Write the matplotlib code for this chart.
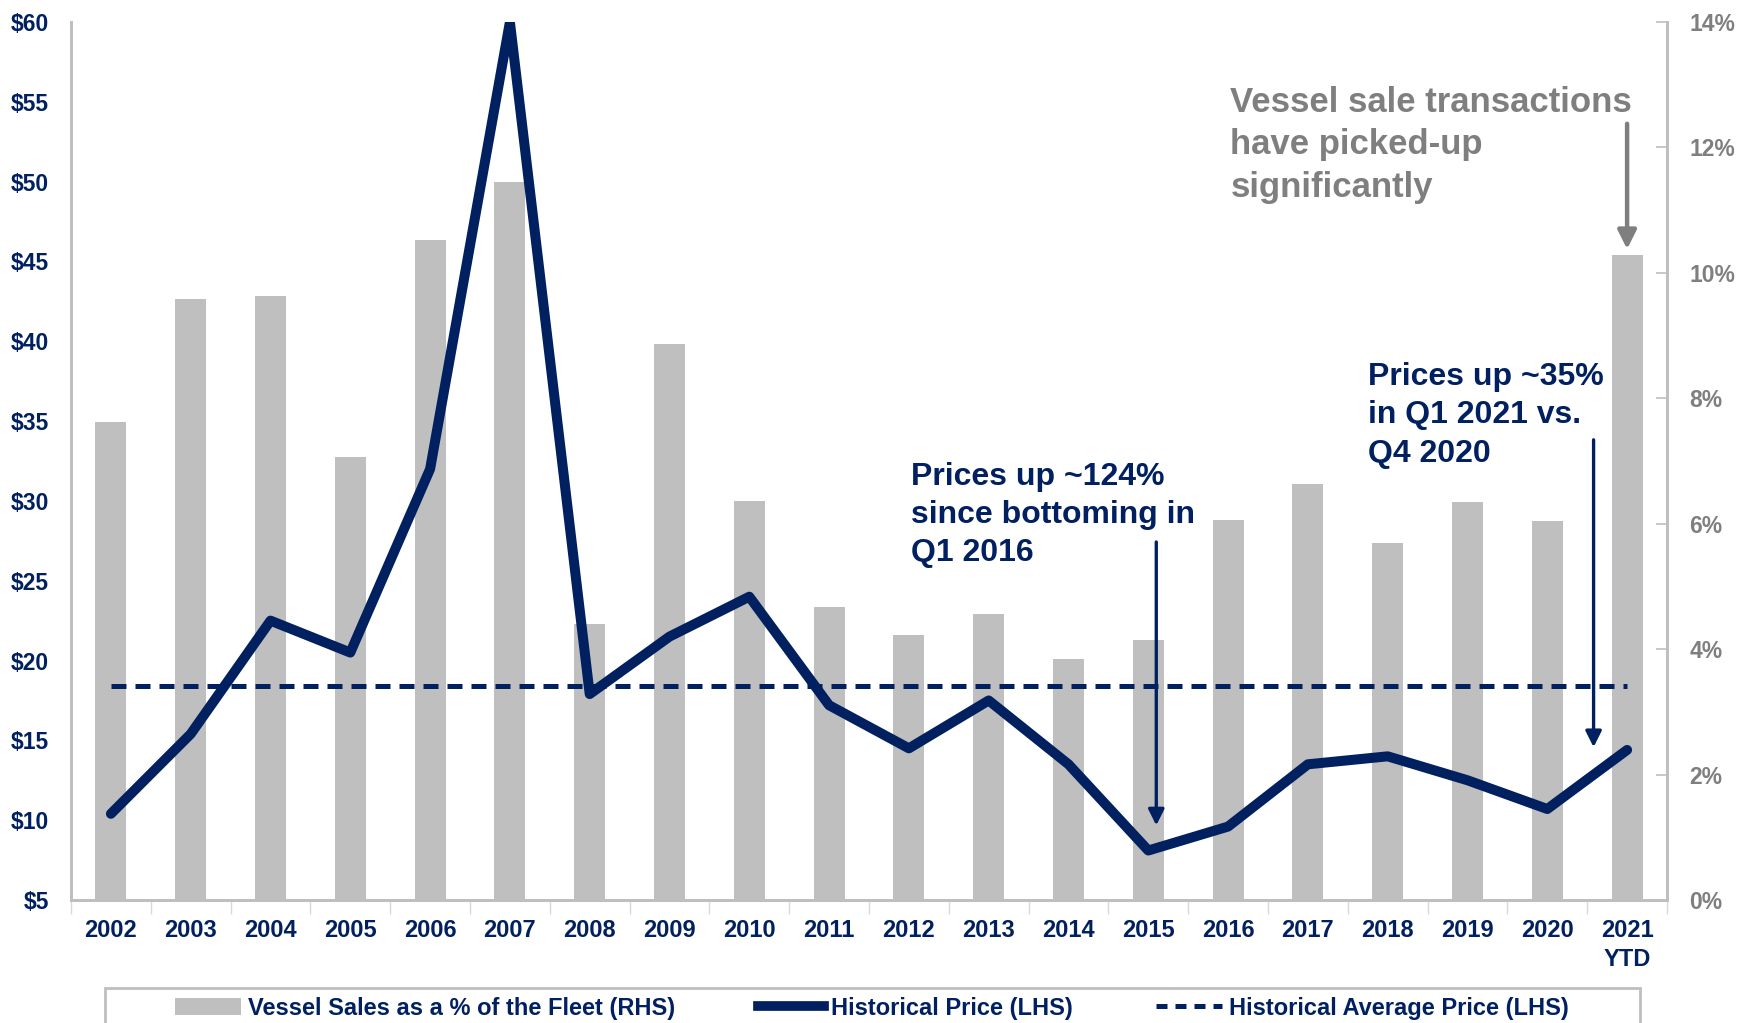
import numpy as np
import matplotlib.pyplot as plt
from matplotlib.patches import Rectangle, Patch
from matplotlib.lines import Line2D
from matplotlib.ticker import FixedLocator

plt.rcParams['font.family'] = ['Liberation Sans', 'DejaVu Sans']
plt.rcParams['font.weight'] = 'bold'

years = ['2002', '2003', '2004', '2005', '2006', '2007', '2008', '2009', '2010', '2011',
         '2012', '2013', '2014', '2015', '2016', '2017', '2018', '2019', '2020', '2021\nYTD']
sales_pct = [7.62, 9.58, 9.63, 7.07, 10.52, 11.45, 4.40, 8.86, 6.36, 4.67,
             4.22, 4.56, 3.84, 4.14, 6.06, 6.63, 5.69, 6.35, 6.05, 10.29]
price = [10.4, 15.4, 22.5, 20.5, 32.0, 60.0, 17.9, 21.5, 24.0, 17.2,
         14.5, 17.5, 13.5, 8.1, 9.6, 13.5, 14.0, 12.5, 10.7, 14.4]
avg_price = 18.4

navy = '#002060'
grey_bar = '#bfbfbf'
grey_txt = '#7f7f7f'

x = np.arange(len(years))

fig = plt.figure(figsize=(17.37, 10.23), dpi=100)
ax = fig.add_axes([71/1737, 1-900/1023, (1667-71)/1737, (900-22)/1023])
ax2 = ax.twinx()
ax.set_zorder(ax2.get_zorder() + 1)
ax.patch.set_visible(False)

# bars on right axis
ax2.bar(x, sales_pct, width=0.39, color=grey_bar, zorder=2)
ax2.set_ylim(0, 14)
ax2.set_yticks(np.arange(0, 15, 2))
ax2.set_yticklabels([f'{v}%' for v in range(0, 15, 2)])
ax2.tick_params(axis='y', direction='in', length=8, width=1.2, color=grey_bar,
                labelcolor=grey_txt, labelsize=16.5, pad=16)

# price lines on left axis
ax.plot(x, price, color=navy, lw=7.2, solid_joinstyle='round', solid_capstyle='round', zorder=3)
ax.plot([x[0], x[-1]], [avg_price, avg_price], color=navy, lw=3.6,
        linestyle=(0, (3, 1.8)), zorder=3)
ax.set_ylim(5, 60)
ax.set_xlim(-0.5, len(years) - 0.5)
ax.set_yticks(np.arange(5, 61, 5))
ax.set_yticklabels([f'${v}' for v in range(5, 61, 5)])
ax.tick_params(axis='y', length=0, labelcolor=navy, labelsize=16.5, pad=16)
ax.set_xticks(x)
ax.set_xticklabels(years, linespacing=1.3)
ax.tick_params(axis='x', which='major', length=0, labelcolor=navy, labelsize=17, pad=14)
ax.xaxis.set_minor_locator(FixedLocator(np.arange(-0.5, len(years), 1.0)))
ax.tick_params(axis='x', which='minor', length=10, width=1, color='#d9d9d9')

for a in (ax, ax2):
    a.spines['top'].set_visible(False)
    for s in ('left', 'right', 'bottom'):
        a.spines[s].set_color(grey_bar)
        a.spines[s].set_linewidth(2)

# annotations
ax.text(14.03, 56.0, 'Vessel sale transactions\nhave picked-up\nsignificantly',
        color=grey_txt, fontsize=25, va='top', ha='left', linespacing=1.36)
ax.annotate('', xy=(19, 45.6), xytext=(19, 53.8),
            arrowprops=dict(arrowstyle='-|>', color=grey_txt, lw=3.2, mutation_scale=28))

ax.text(10.03, 32.45, 'Prices up ~124%\nsince bottoming in\nQ1 2016',
        color=navy, fontsize=23, va='top', ha='left', linespacing=1.36)
ax.annotate('', xy=(13.1, 9.5), xytext=(13.1, 27.6),
            arrowprops=dict(arrowstyle='-|>', color=navy, lw=2.4, mutation_scale=24))

ax.text(15.75, 38.7, 'Prices up ~35%\nin Q1 2021 vs.\nQ4 2020',
        color=navy, fontsize=23, va='top', ha='left', linespacing=1.36)
ax.annotate('', xy=(18.58, 14.4), xytext=(18.58, 34.0),
            arrowprops=dict(arrowstyle='-|>', color=navy, lw=2.4, mutation_scale=24))

# legend
fig.patches.append(Rectangle((105/1737, -0.02), (1640-105)/1737, 1-988/1023 + 0.02,
                             transform=fig.transFigure, facecolor='white',
                             edgecolor='#bfbfbf', lw=2))
handles = [Patch(facecolor=grey_bar, edgecolor='none'),
           Line2D([], [], color=navy, lw=7),
           Line2D([], [], color=navy, lw=3.6, linestyle=(0, (2.2, 1.6)))]
labels = ['Vessel Sales as a % of the Fleet (RHS)', 'Historical Price (LHS)',
          'Historical Average Price (LHS)']
fig.legend(handles, labels, loc='center', bbox_to_anchor=(0.502, 1-1008/1023), ncol=3,
           frameon=False, fontsize=17, labelcolor=navy, handlelength=2.8,
           handletextpad=0.3, columnspacing=3.5, handleheight=0.7)

fig.savefig('out.png', dpi=100)
